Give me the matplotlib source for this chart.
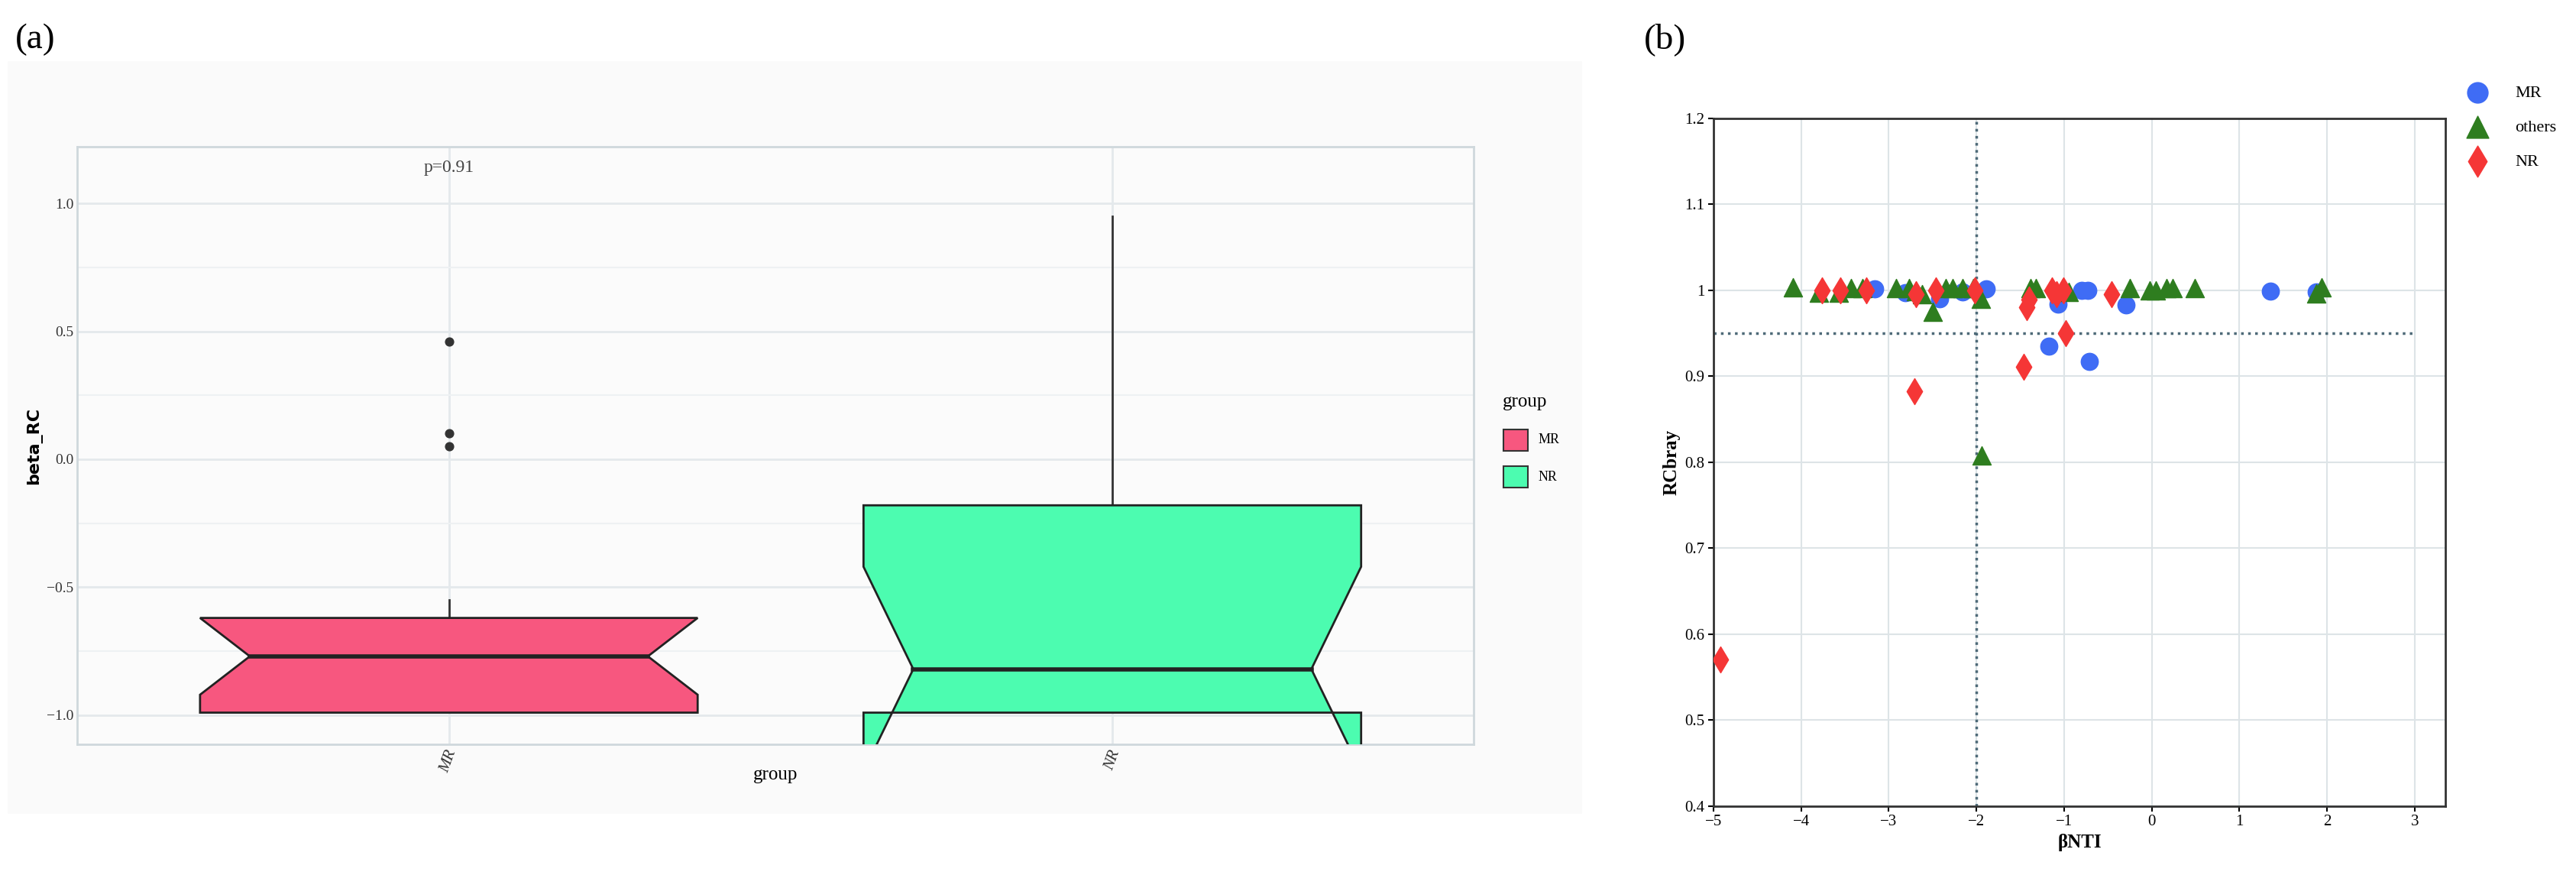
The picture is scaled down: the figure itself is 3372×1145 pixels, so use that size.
import matplotlib.pyplot as plt
from matplotlib.patches import Polygon, Rectangle
import numpy as np

plt.rcParams["font.family"] = ["Liberation Serif", "DejaVu Sans"]

# ---- panel (a): notched boxplot stats
groups = ["MR", "NR"]
box_colors = ["#f7577f", "#4cfcb0"]
q1 = [-0.99, -0.99]
q3 = [-0.62, -0.18]
median = [-0.77, -0.82]
notch_lo = [-0.92, -1.22]
notch_hi = [-0.62, -0.42]
whisk_lo = [-0.99, -0.99]
whisk_hi = [-0.55, 0.95]
outliers_mr = [0.46, 0.10, 0.05]

# ---- panel (b): scatter values
mr_x = [-3.16, -2.81, -2.42, -2.16, -1.89, -1.17, -1.07, -0.80, -0.73, -0.71, -0.29, 1.35, 1.88]
mr_y = [1.001, 0.997, 0.990, 0.998, 1.001, 0.935, 0.984, 1.000, 1.000, 0.917, 0.983, 0.999, 0.998]
ot_x = [-4.09, -3.80, -3.57, -3.43, -3.30, -2.92, -2.77, -2.69, -2.62, -2.50, -2.35, -2.27,
        -2.16, -2.04, -1.95, -1.94, -1.38, -1.32, -1.02, -0.95, -0.25, -0.02, 0.05, 0.17,
        0.24, 0.49, 1.88, 1.94]
ot_y = [1.003, 0.997, 0.997, 1.002, 1.002, 1.002, 1.002, 0.999, 0.995, 0.975, 1.002, 1.002,
        1.002, 1.002, 0.990, 0.808, 1.002, 1.002, 1.002, 0.998, 1.002, 1.000, 1.000, 1.002,
        1.002, 1.002, 0.996, 1.003]
nr_x = [-4.92, -3.76, -3.55, -3.26, -2.69, -2.71, -2.46, -2.02, -1.46, -1.43, -1.40, -1.14,
        -1.09, -1.01, -0.98, -0.46]
nr_y = [0.570, 1.000, 1.000, 1.000, 0.995, 0.882, 1.000, 1.000, 0.911, 0.980, 0.989, 1.000,
        0.995, 1.000, 0.950, 0.995]

fig = plt.figure(figsize=(33.73, 11.45), dpi=100)

# outer light background of ggplot panel
fig.patches.append(Rectangle((0.003, 0.07), 0.611, 0.86, transform=fig.transFigure,
                             facecolor="#fafafa", edgecolor="none", zorder=-5))

ax = fig.add_axes([0.030, 0.149, 0.542, 0.683])
ax.set_facecolor("#fbfbfb")
ax.set_xlim(0.44, 2.545)
ax.set_ylim(-1.115, 1.22)
for s in ax.spines.values():
    s.set_color("#cfd8dc")
    s.set_linewidth(2)
ax.set_yticks([-1.0, -0.5, 0.0, 0.5, 1.0])
ax.set_yticks([-0.75, -0.25, 0.25, 0.75], minor=True)
ax.set_xticks([1, 2])
ax.set_xticklabels(groups, rotation=70, style="italic", fontsize=15, color="#333333")
ax.tick_params(axis="y", labelsize=14, labelcolor="#333333", length=0)
ax.tick_params(axis="x", length=0)
ax.tick_params(which="minor", length=0)
ax.grid(True, which="major", color="#e4e9ec", linewidth=2)
ax.grid(True, which="minor", axis="y", color="#eef1f3", linewidth=1.5)
ax.set_axisbelow(True)

w = 0.375
nw = 0.30
for i in range(2):
    x = i + 1
    ax.plot([x, x], [q3[i], whisk_hi[i]], color="#333333", lw=2, zorder=2)
    ax.plot([x, x], [whisk_lo[i], q1[i]], color="#333333", lw=2, zorder=2)
    verts = [(x - w, q3[i]), (x - w, notch_hi[i]), (x - nw, median[i]), (x - w, notch_lo[i]),
             (x - w, q1[i]), (x + w, q1[i]), (x + w, notch_lo[i]), (x + nw, median[i]),
             (x + w, notch_hi[i]), (x + w, q3[i])]
    ax.add_patch(Polygon(verts, closed=True, facecolor=box_colors[i], edgecolor="#222222",
                         lw=2, zorder=3))
    ax.plot([x - nw, x + nw], [median[i], median[i]], color="#222222", lw=4, zorder=4)
ax.scatter([1] * len(outliers_mr), outliers_mr, color="#333333", s=60, zorder=4)
ax.text(1.0, 1.14, "p=0.91", ha="center", va="center", fontsize=17, color="#444444")
ax.set_xlabel("group", fontsize=18, labelpad=-8)
ax.set_ylabel("beta_RC", fontsize=16, fontweight="bold", family="DejaVu Sans", labelpad=4)

# legend of panel (a)
fig.text(0.583, 0.535, "group", fontsize=18)
for j, (g, c) in enumerate(zip(groups, box_colors)):
    yy = 0.497 - j * 0.042
    fig.patches.append(Rectangle((0.5835, yy - 0.012), 0.0095, 0.024, transform=fig.transFigure,
                                 facecolor=c, edgecolor="#333333", lw=1.5))
    fig.text(0.597, yy, g, fontsize=13, va="center")

fig.text(0.006, 0.955, "(a)", fontsize=34, va="center")
fig.text(0.638, 0.955, "(b)", fontsize=34, va="center")

# ---- panel (b)
bx = fig.add_axes([0.665, 0.079, 0.284, 0.786])
bx.set_xlim(-5, 3.35)
bx.set_ylim(0.4, 1.2)
bx.set_xticks(np.arange(-5, 4))
bx.set_yticks(np.arange(0.4, 1.21, 0.1))
bx.set_yticklabels(["0.4", "0.5", "0.6", "0.7", "0.8", "0.9", "1", "1.1", "1.2"])
bx.tick_params(labelsize=15, direction="out", length=5, width=1.5)
for s in bx.spines.values():
    s.set_linewidth(2)
    s.set_color("#333333")
bx.grid(True, color="#dde4e7", linewidth=1.5)
bx.set_axisbelow(True)
bx.axvline(-2, color="#4e6a78", ls=":", lw=2.5, zorder=1)
bx.plot([-5, 3], [0.95, 0.95], color="#4e6a78", ls=":", lw=2.5, zorder=1)
bx.scatter(mr_x, mr_y, marker="o", s=260, color="#3f6cf5", label="MR", zorder=3)
bx.scatter(ot_x, ot_y, marker="^", s=300, color="#2e7d1f", label="others", zorder=3)
bx.scatter(nr_x, nr_y, marker="d", s=300, color="#f53636", label="NR", zorder=3)
bx.set_xlabel("βNTI", fontsize=18, fontweight="bold")
bx.set_ylabel("RCbray", fontsize=18, fontweight="bold")
bx.legend(loc="upper left", bbox_to_anchor=(1.0, 1.07), frameon=False, fontsize=16,
          markerscale=1.2, handletextpad=1.2, labelspacing=1.1)

fig.savefig("out.png", dpi=100, facecolor="white")
